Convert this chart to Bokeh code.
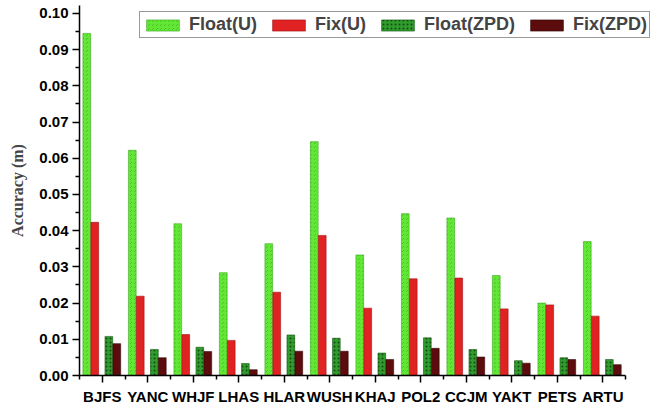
from bokeh.plotting import figure
from bokeh.models import ColumnDataSource, FixedTicker, NumeralTickFormatter, Range1d
from bokeh.transform import dodge
from bokeh.embed import file_html
from bokeh.resources import INLINE
import numpy as np

stations = ["BJFS", "YANC", "WHJF", "LHAS", "HLAR", "WUSH", "KHAJ", "POL2", "CCJM", "YAKT", "PETS", "ARTU"]
float_u = [0.0945, 0.0622, 0.0419, 0.0284, 0.0364, 0.0646, 0.0333, 0.0447, 0.0435, 0.0276, 0.0200, 0.0370]
fix_u = [0.0423, 0.0219, 0.0113, 0.0097, 0.0230, 0.0387, 0.0186, 0.0267, 0.0269, 0.0184, 0.0195, 0.0164]
float_zpd = [0.0108, 0.0072, 0.0078, 0.0033, 0.0112, 0.0103, 0.0062, 0.0104, 0.0072, 0.0041, 0.0049, 0.0044]
fix_zpd = [0.0088, 0.0049, 0.0066, 0.0016, 0.0067, 0.0067, 0.0044, 0.0075, 0.0051, 0.0034, 0.0044, 0.0030]
series_names = ["Float(U)", "Fix(U)", "Float(ZPD)", "Fix(ZPD)"]
y_ticks = [0.00, 0.01, 0.02, 0.03, 0.04, 0.05, 0.06, 0.07, 0.08, 0.09, 0.10]

src = ColumnDataSource(dict(
    x=np.arange(len(stations)),
    float_u=float_u, fix_u=fix_u, float_zpd=float_zpd, fix_zpd=fix_zpd,
))

n = len(stations)
# frame: 546 px for the 12 stations, plus room on the right for the legend
p = figure(width=667, height=410, output_backend="svg", toolbar_location=None,
           x_range=Range1d(-0.5, n - 0.5 + 37 / 45.5), y_range=Range1d(0, 0.1022),
           min_border_left=79, min_border_top=5, min_border_right=5, min_border_bottom=35)
p.outline_line_color = None
p.xgrid.visible = False
p.ygrid.visible = False
p.background_fill_color = "white"
p.border_fill_color = "white"

w = 0.17
specs = [
    ("float_u", -0.34, "#62e834", "#3aa820", "right_diagonal_dash", "#2c9a1c", 0.45),
    ("fix_u", -0.165, "#e02222", "#a01010", None, "black", 0.0),
    ("float_zpd", 0.145, "#2f9c2b", "#1a5a18", "dot", "#0a2a0a", 0.7),
    ("fix_zpd", 0.32, "#5c0c0c", "#300505", None, "black", 0.0),
]
for (col, off, fc, lc, hp, hc, ha), name in zip(specs, series_names):
    kw = {}
    if hp:
        kw = dict(hatch_pattern=hp, hatch_color=hc, hatch_alpha=ha, hatch_scale=4, hatch_weight=1)
    p.vbar(x=dodge("x", off), top=col, width=w, bottom=0, source=src,
           fill_color=fc, line_color=lc, line_width=0.6, legend_label=name, **kw)

# x axis
p.xaxis.bounds = (-0.5, n - 0.5)
p.xaxis.ticker = FixedTicker(ticks=list(range(n)),
                             minor_ticks=[i - 0.5 for i in range(n + 1)])
p.xaxis.major_label_overrides = {i: s for i, s in enumerate(stations)}
p.xaxis.major_label_text_font = "Liberation Sans"
p.xaxis.major_label_text_font_style = "bold"
p.xaxis.major_label_text_font_size = "15px"
p.xaxis.major_label_text_color = "black"
p.xaxis.major_label_standoff = 5
p.xaxis.major_tick_out = 7
p.xaxis.major_tick_in = 0
p.xaxis.minor_tick_out = 4
p.xaxis.minor_tick_in = 0
p.xaxis.axis_line_width = 1.5
p.xaxis.major_tick_line_width = 1.5
p.xaxis.minor_tick_line_width = 1.5

# y axis
p.yaxis.ticker = FixedTicker(ticks=y_ticks,
                             minor_ticks=[t + 0.005 for t in y_ticks[:-1]])
p.yaxis.formatter = NumeralTickFormatter(format="0.00")
p.yaxis.major_label_text_font = "Liberation Sans"
p.yaxis.major_label_text_font_style = "bold"
p.yaxis.major_label_text_font_size = "15px"
p.yaxis.major_label_text_color = "black"
p.yaxis.major_label_standoff = 4
p.yaxis.major_tick_out = 7
p.yaxis.major_tick_in = 0
p.yaxis.minor_tick_out = 4
p.yaxis.minor_tick_in = 0
p.yaxis.axis_line_width = 1.5
p.yaxis.major_tick_line_width = 1.5
p.yaxis.minor_tick_line_width = 1.5
p.yaxis.axis_label = "Accuracy (m)"
p.yaxis.axis_label_text_font = "Liberation Serif"
p.yaxis.axis_label_text_font_style = "bold"
p.yaxis.axis_label_text_font_size = "16px"
p.yaxis.axis_label_standoff = 10

lg = p.legend[0]
lg.orientation = "horizontal"
lg.location = (60, 337)
lg.padding = 2
lg.spacing = 11
lg.margin = 0
lg.glyph_width = 41
lg.glyph_height = 14
lg.label_standoff = 6
lg.label_text_font = "Liberation Sans"
lg.label_text_font_style = "bold"
lg.label_text_font_size = "18px"
lg.label_height = 14
lg.border_line_color = "#333333"
lg.border_line_width = 1.5
lg.background_fill_alpha = 1.0

open("out.html", "w").write(file_html(p, INLINE))
